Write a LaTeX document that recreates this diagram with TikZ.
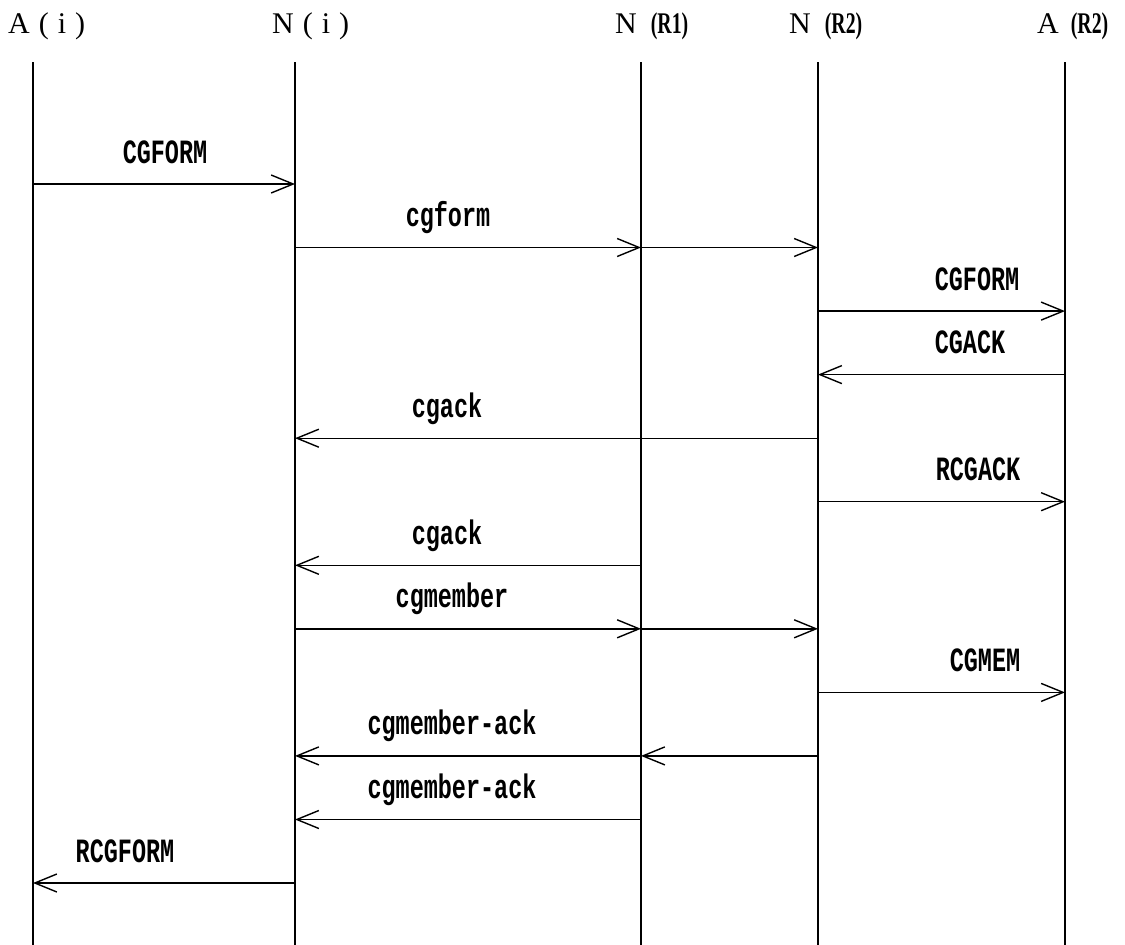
\documentclass[tikz,border=0pt]{standalone}
\usepackage{fontspec}
\setmainfont{Liberation Serif}
\newfontfamily\lblfont[FakeStretch=0.69]{Liberation Mono}
\newfontfamily\hdrsmfont[FakeStretch=0.66]{Liberation Serif}
\usetikzlibrary{arrows.meta}
\tikzset{
  life/.style={line width=1.6pt},
  msg/.style={line width=1.4pt,-{Straight Barb[length=22pt,width=18pt]}},
  lbl/.style={font=\lblfont\bfseries\fontsize{34}{34}\selectfont,inner sep=0pt,anchor=base},
  hdr/.style={font=\fontsize{30}{30}\selectfont,inner sep=0pt,anchor=base west},
}
\newcommand{\smh}[1]{{\hdrsmfont\bfseries\fontsize{30}{30}\selectfont #1}}
\begin{document}
\begin{tikzpicture}[x=1pt,y=-1pt]
\useasboundingbox (0,0) rectangle (1125,945);
% headers
\node[hdr] (hAi) at (8,33) {A\hspace{9pt}(\hspace{9pt}i\hspace{9pt})};
\node[hdr] (hNi) at (272,33) {N\hspace{9pt}(\hspace{9pt}i\hspace{9pt})};
\node[hdr] (hR1) at (615,33) {N\hspace{14pt}\smh{(R1)}};
\node[hdr] (hR2) at (789,33) {N\hspace{14pt}\smh{(R2)}};
\node[hdr] (hAr) at (1037,33) {A\hspace{12pt}\smh{(R2)}};
% lifelines
\coordinate (Ai) at (33,62);   \coordinate (Aib) at (33,945);
\coordinate (Ni) at (295,62);  \coordinate (Nib) at (295,945);
\coordinate (R1) at (641,62);  \coordinate (R1b) at (641,945);
\coordinate (R2) at (818,62);  \coordinate (R2b) at (818,945);
\coordinate (Ar) at (1065,62); \coordinate (Arb) at (1065,945);
\foreach \t/\b in {Ai/Aib,Ni/Nib,R1/R1b,R2/R2b,Ar/Arb} \draw[life] (\t) -- (\b);
% message rows
\coordinate (r1) at (0,184);
\coordinate (r2) at (0,247.5);
\coordinate (r3) at (0,311.1);
\coordinate (r4) at (0,374.6);
\coordinate (r5) at (0,438.2);
\coordinate (r6) at (0,501.7);
\coordinate (r7) at (0,565.3);
\coordinate (r8) at (0,628.8);
\coordinate (r9) at (0,692.4);
\coordinate (r10) at (0,755.9);
\coordinate (r11) at (0,819.5);
\coordinate (r12) at (0,883);
% messages
\draw[msg] (Ai |- r1) -- (Ni |- r1);
\node[lbl] (l1) at (165,163) {CGFORM};
\draw[msg] (Ni |- r2) -- (R1 |- r2);
\draw[msg] (R1 |- r2) -- (R2 |- r2);
\node[lbl] (l2) at (448,226.5) {cgform};
\draw[msg] (R2 |- r3) -- (Ar |- r3);
\node[lbl] (l3) at (977,290) {CGFORM};
\draw[msg] (Ar |- r4) -- (R2 |- r4);
\node[lbl] (l4) at (970,353.6) {CGACK};
\draw[msg] (R2 |- r5) -- (Ni |- r5);
\node[lbl] (l5) at (447,417.2) {cgack};
\draw[msg] (R2 |- r6) -- (Ar |- r6);
\node[lbl] (l6) at (978,480.7) {RCGACK};
\draw[msg] (R1 |- r7) -- (Ni |- r7);
\node[lbl] (l7) at (447,544.3) {cgack};
\draw[msg] (Ni |- r8) -- (R1 |- r8);
\draw[msg] (R1 |- r8) -- (R2 |- r8);
\node[lbl] (l8) at (452,607.8) {cgmember};
\draw[msg] (R2 |- r9) -- (Ar |- r9);
\node[lbl] (l9) at (985,671.4) {CGMEM};
\draw[msg] (R2 |- r10) -- (R1 |- r10);
\draw[msg] (R1 |- r10) -- (Ni |- r10);
\node[lbl] (l10) at (452,734.9) {cgmember-ack};
\draw[msg] (R1 |- r11) -- (Ni |- r11);
\node[lbl] (l11) at (452,798.5) {cgmember-ack};
\draw[msg] (Ni |- r12) -- (Ai |- r12);
\node[lbl] (l12) at (125,862) {RCGFORM};
\end{tikzpicture}
\end{document}
